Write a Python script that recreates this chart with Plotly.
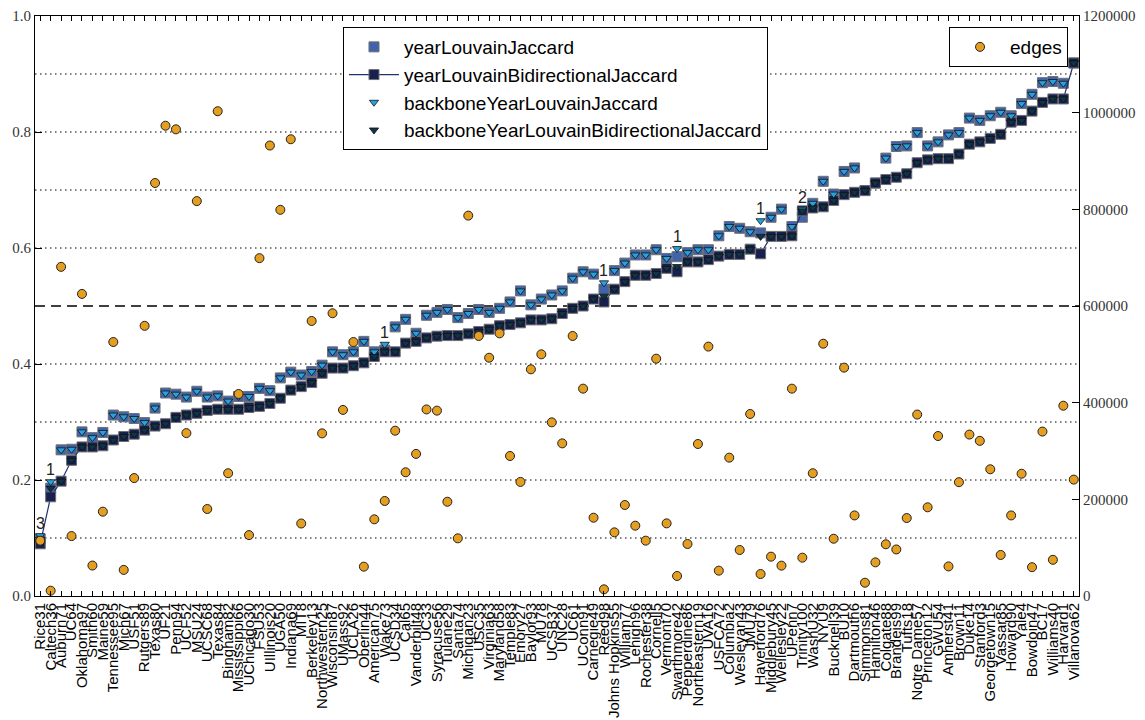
import plotly.graph_objects as go

schools = [
    "Rice31", "Caltech36", "Auburn71", "UC64", "Oklahoma97", "Smith60", "Maine59", "Tennessee95",
    "Mich67", "USF51", "Rutgers89", "Texas80", "UF21", "Penn94", "UCF52", "MSU24", "UCSC68",
    "Texas84", "Bingham82", "Mississippi66", "UChicago30", "FSU53", "UIllinois20", "UGA50",
    "Indiana69", "MIT8", "Berkeley13", "Northwestern25", "Wisconsin87", "UMass92", "UCLA26",
    "Oberlin44", "American75", "Wake73", "UCSD34", "Cal65", "Vanderbilt48", "UC33", "Syracuse56",
    "Tulane29", "Santa74", "Michigan23", "USC35", "Virginia63", "Maryland58", "Temple83",
    "Emory27", "Baylor93", "MU78", "UCSB37", "UNC28", "UC61", "UConn91", "Carnegie49", "Reed98",
    "Johns Hopkins55", "William77", "Lehigh96", "Rochester38", "Cornell5", "Vermont70",
    "Swarthmore42", "Pepperdine86", "Northeastern19", "UVA16", "USFCA72", "Columbia2",
    "Wesleyan43", "JMU79", "Haverford76", "Middlebury45", "Wellesley22", "UPenn7", "Trinity100",
    "WashU32", "NYU9", "Bucknell39", "BU10", "Dartmouth6", "Simmons81", "Hamilton46", "Colgate88",
    "Brandeis99", "Tufts18", "Notre Dame57", "Princeton12", "GWU54", "Amherst41", "Brown11",
    "Duke14", "Stanford3", "Georgetown15", "Vassar85", "Howard90", "Yale4", "Bowdoin47", "BC17",
    "Williams40", "Harvard1", "Villanova62",
]

year_louvain_jaccard = [
    0.098, 0.186, 0.252, 0.253, 0.283, 0.273, 0.282, 0.312, 0.309, 0.306,
    0.299, 0.324, 0.350, 0.348, 0.343, 0.353, 0.343, 0.345, 0.336, 0.344,
    0.344, 0.358, 0.354, 0.376, 0.386, 0.381, 0.387, 0.398, 0.421, 0.416,
    0.421, 0.439, 0.421, 0.424, 0.464, 0.477, 0.453, 0.484, 0.489, 0.494,
    0.480, 0.487, 0.494, 0.489, 0.496, 0.507, 0.526, 0.502, 0.512, 0.519,
    0.526, 0.548, 0.559, 0.555, 0.529, 0.561, 0.574, 0.588, 0.588, 0.597,
    0.582, 0.585, 0.592, 0.597, 0.597, 0.621, 0.637, 0.634, 0.628, 0.626,
    0.653, 0.667, 0.637, 0.653, 0.677, 0.715, 0.693, 0.732, 0.738, 0.699,
    0.712, 0.755, 0.775, 0.776, 0.799, 0.776, 0.783, 0.795, 0.799, 0.824,
    0.820, 0.828, 0.834, 0.828, 0.849, 0.865, 0.885, 0.887, 0.884, 0.919,
]

year_louvain_bidirectional_jaccard = [
    0.090, 0.171, 0.198, 0.234, 0.257, 0.257, 0.259, 0.269, 0.275, 0.279,
    0.286, 0.293, 0.297, 0.308, 0.312, 0.315, 0.320, 0.322, 0.322, 0.322,
    0.325, 0.327, 0.332, 0.341, 0.355, 0.361, 0.368, 0.384, 0.393, 0.393,
    0.397, 0.402, 0.413, 0.421, 0.421, 0.436, 0.439, 0.445, 0.448, 0.449,
    0.449, 0.452, 0.456, 0.460, 0.466, 0.468, 0.471, 0.476, 0.476, 0.478,
    0.487, 0.496, 0.500, 0.512, 0.507, 0.529, 0.542, 0.553, 0.553, 0.556,
    0.565, 0.559, 0.576, 0.576, 0.580, 0.586, 0.589, 0.589, 0.598, 0.590,
    0.620, 0.620, 0.621, 0.664, 0.669, 0.671, 0.682, 0.692, 0.696, 0.699,
    0.712, 0.718, 0.722, 0.728, 0.747, 0.752, 0.754, 0.754, 0.762, 0.779,
    0.783, 0.789, 0.796, 0.817, 0.820, 0.836, 0.851, 0.857, 0.857, 0.919,
]

backbone_year_louvain_jaccard = [
    0.104, 0.197, 0.252, 0.253, 0.283, 0.273, 0.282, 0.312, 0.309, 0.306,
    0.299, 0.324, 0.350, 0.348, 0.343, 0.353, 0.343, 0.345, 0.336, 0.344,
    0.344, 0.358, 0.354, 0.376, 0.386, 0.381, 0.387, 0.398, 0.421, 0.416,
    0.421, 0.439, 0.421, 0.434, 0.464, 0.477, 0.453, 0.484, 0.489, 0.494,
    0.480, 0.487, 0.494, 0.489, 0.496, 0.507, 0.526, 0.502, 0.512, 0.519,
    0.526, 0.548, 0.559, 0.555, 0.540, 0.561, 0.574, 0.588, 0.588, 0.597,
    0.582, 0.599, 0.592, 0.597, 0.597, 0.621, 0.637, 0.634, 0.628, 0.647,
    0.653, 0.667, 0.637, 0.667, 0.677, 0.715, 0.693, 0.732, 0.738, 0.699,
    0.712, 0.755, 0.775, 0.776, 0.799, 0.776, 0.783, 0.795, 0.799, 0.824,
    0.820, 0.828, 0.834, 0.828, 0.849, 0.865, 0.885, 0.887, 0.884, 0.919,
]

backbone_year_louvain_bidirectional_jaccard = [
    0.098, 0.186, 0.198, 0.234, 0.257, 0.257, 0.259, 0.269, 0.275, 0.279,
    0.286, 0.293, 0.297, 0.308, 0.312, 0.315, 0.320, 0.322, 0.322, 0.322,
    0.325, 0.327, 0.332, 0.341, 0.355, 0.361, 0.368, 0.384, 0.393, 0.393,
    0.397, 0.402, 0.413, 0.421, 0.421, 0.436, 0.439, 0.445, 0.448, 0.449,
    0.449, 0.452, 0.456, 0.460, 0.466, 0.468, 0.471, 0.476, 0.476, 0.478,
    0.487, 0.496, 0.500, 0.512, 0.517, 0.529, 0.542, 0.553, 0.553, 0.556,
    0.565, 0.568, 0.576, 0.576, 0.580, 0.586, 0.589, 0.589, 0.598, 0.620,
    0.620, 0.620, 0.621, 0.664, 0.669, 0.671, 0.682, 0.692, 0.696, 0.699,
    0.712, 0.718, 0.722, 0.728, 0.747, 0.752, 0.754, 0.754, 0.762, 0.779,
    0.783, 0.789, 0.796, 0.817, 0.820, 0.836, 0.851, 0.857, 0.857, 0.919,
]

edges = [
    114500, 11000, 681000, 124000, 625000, 63000, 174500, 525500, 54000, 244000,
    559000, 854500, 973000, 965500, 337000, 817000, 180000, 1003000, 254000, 418000,
    126000, 699000, 932000, 799000, 945000, 150000, 569000, 336500, 585000, 385000,
    525500, 60700, 158600, 196600, 342000, 256000, 294000, 386000, 383500, 195000,
    119300, 787000, 538000, 493000, 543400, 289700, 236000, 469000, 500000, 359300,
    315800, 538000, 429000, 162000, 13800, 131700, 188300, 145500, 114500, 491000,
    150300, 41400, 107600, 314500, 516000, 52400, 286200, 95200, 376600, 45500,
    81400, 62800, 429000, 79300, 254000, 522000, 118500, 472500, 166700, 27500,
    69600, 107000, 96300, 161300, 375400, 183500, 331000, 61200, 235500, 334000,
    321000, 262200, 84900, 166700, 253000, 59600, 340200, 74900, 393700, 240800,
]

# schools where the backbone result differs, with the count printed above them
flagged_schools = ["Rice31", "Caltech36", "Wake73", "Reed98", "Swarthmore42", "Haverford76", "Trinity100"]
flagged_counts = ["3", "1", "1", "1", "1", "1", "2"]

left_ticks = [0.0, 0.2, 0.4, 0.6, 0.8, 1.0]
right_ticks = [0, 200000, 400000, 600000, 800000, 1000000, 1200000]
grid_levels = [0.1, 0.2, 0.3, 0.4, 0.5, 0.6, 0.7, 0.8, 0.9]

SANS = "Liberation Sans, Arial, sans-serif"
SERIF = "Liberation Serif, Times New Roman, serif"

fig = go.Figure()

fig.add_trace(go.Scatter(
    x=schools, y=year_louvain_jaccard, mode="markers", name="yearLouvainJaccard",
    marker=dict(symbol="square", size=10, color="#4063ab", line=dict(color="#6f6f6f", width=1)),
    legend="legend",
))
fig.add_trace(go.Scatter(
    x=schools, y=year_louvain_bidirectional_jaccard, mode="lines+markers",
    name="yearLouvainBidirectionalJaccard",
    line=dict(color="#25306e", width=1.2),
    marker=dict(symbol="square", size=10, color="#17204f", line=dict(color="#6f6f6f", width=1)),
    legend="legend",
))
fig.add_trace(go.Scatter(
    x=schools, y=backbone_year_louvain_jaccard, mode="markers", name="backboneYearLouvainJaccard",
    marker=dict(symbol="triangle-down", size=8, color="#27a2dc", line=dict(color="#111111", width=0.8)),
    legend="legend",
))
fig.add_trace(go.Scatter(
    x=schools, y=backbone_year_louvain_bidirectional_jaccard, mode="markers",
    name="backboneYearLouvainBidirectionalJaccard",
    marker=dict(symbol="triangle-down", size=8, color="#0e3446", line=dict(color="#111111", width=0.8)),
    legend="legend",
))
fig.add_trace(go.Scatter(
    x=schools, y=edges, mode="markers", name="edges", yaxis="y2",
    marker=dict(symbol="circle", size=9, color="#e59e1f", line=dict(color="#222222", width=1)),
    legend="legend2",
))

# count labels above the flagged schools
for school, label in zip(flagged_schools, flagged_counts):
    i = schools.index(school)
    top = max(year_louvain_jaccard[i], year_louvain_bidirectional_jaccard[i],
              backbone_year_louvain_jaccard[i], backbone_year_louvain_bidirectional_jaccard[i])
    fig.add_annotation(x=school, y=top, yref="y", text=label, showarrow=False,
                       yshift=12, font=dict(family=SANS, size=16, color="#222222"))

# horizontal reference lines: dotted every 0.1, dashed at 0.5
shapes = []
for level in grid_levels:
    dashed = abs(level - 0.5) < 1e-9
    shapes.append(dict(
        type="line", xref="paper", yref="y", x0=0, x1=1, y0=level, y1=level,
        line=dict(color="#000000", width=1.3 if dashed else 1,
                  dash="10px,6px" if dashed else "1.5px,3.5px"),
        layer="below",
    ))

fig.update_layout(
    width=1145, height=720,
    margin=dict(l=35, r=66, t=16, b=124, pad=0),
    paper_bgcolor="white", plot_bgcolor="white",
    shapes=shapes,
    showlegend=True,
    legend=dict(
        x=0.295, y=0.981, xanchor="left", yanchor="top",
        bgcolor="white", bordercolor="#000000", borderwidth=1,
        font=dict(family=SANS, size=19, color="#000000"),
        itemwidth=50,
    ),
    legend2=dict(
        x=0.9895, y=0.981, xanchor="right", yanchor="top",
        bgcolor="white", bordercolor="#000000", borderwidth=1,
        font=dict(family=SANS, size=19, color="#000000"),
        itemwidth=50,
    ),
    xaxis=dict(
        type="category", categoryorder="array", categoryarray=schools,
        range=[-0.5, len(schools) - 0.5],
        tickmode="array", tickvals=schools, ticktext=schools, tickangle=-90,
        tickfont=dict(family=SANS, size=15, color="#000000"),
        ticks="inside", ticklen=5, tickcolor="#000000", tickwidth=1,
        showline=True, linecolor="#000000", linewidth=1, mirror="ticks",
        showgrid=False, zeroline=False, automargin=False,
    ),
    yaxis=dict(
        range=[0, 1], tickmode="array", tickvals=left_ticks,
        ticktext=[f"{v:.1f}" for v in left_ticks],
        tickfont=dict(family=SERIF, size=15, color="#333333"),
        ticks="inside", ticklen=7, tickcolor="#000000",
        showline=True, linecolor="#000000", linewidth=1,
        showgrid=False, zeroline=False, automargin=False,
    ),
    yaxis2=dict(
        overlaying="y", side="right", range=[0, 1200000],
        tickmode="array", tickvals=right_ticks, ticktext=[str(v) for v in right_ticks],
        tickfont=dict(family=SERIF, size=15, color="#333333"),
        ticks="inside", ticklen=7, tickcolor="#000000",
        showline=True, linecolor="#000000", linewidth=1,
        showgrid=False, zeroline=False, automargin=False,
    ),
)

fig.write_html("out.html")
